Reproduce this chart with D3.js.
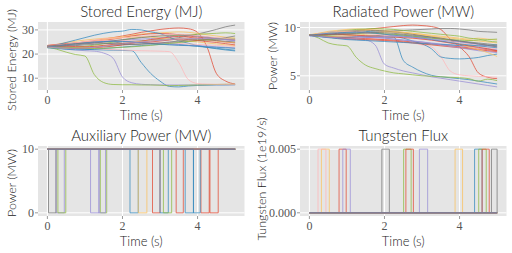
<!DOCTYPE html>
<html>
<head>
<meta charset="utf-8">
<script src="https://cdn.jsdelivr.net/npm/d3@7"></script>
<style>
  body { margin: 0; background: #fff; }
  text { fill: #222; }
</style>
</head>
<body>
<svg id="chart" width="512" height="253"></svg>
<script>
// time grid of the sampled signals (s)
var times = [0, 0.25, 0.5, 0.75, 1, 1.25, 1.5, 1.75, 2, 2.25, 2.5, 2.75, 3, 3.25, 3.5, 3.75, 4, 4.25, 4.5, 4.75, 5];
var colorCycle = ["#E24A33", "#348ABD", "#988ED5", "#777777", "#FBC15E", "#8EBA42", "#FFB5B8"];

// stored energy (MJ), one row per shot
var storedEnergy = [
  [23.5,23.8,24.2,24.5,25.0,25.6,26.2,26.8,27.5,28.2,29.0,29.6,30.2,30.6,30.8,30.5,29.0,23.0,12.0,8.8,7.6],
  [23.0,22.8,22.5,22.3,22.0,21.8,21.7,21.6,21.5,21.4,16.5,12.0,8.8,6.6,6.4,6.8,7.0,7.1,7.2,7.2,7.3],
  [23.2,22.6,22.0,21.7,21.4,21.2,20.4,18.3,10.5,8.1,7.5,7.3,7.2,7.2,7.2,7.2,7.2,7.3,7.3,7.3,7.3],
  [22.8,23.0,23.3,23.5,23.8,24.0,24.3,24.6,25.0,25.3,25.5,25.8,26.0,26.3,26.8,27.5,28.3,29.2,30.2,31.3,32.0],
  [23.4,24.0,24.8,25.3,25.8,26.2,26.5,26.8,27.2,27.8,28.3,28.6,28.8,29.0,29.2,29.0,28.6,28.0,27.5,27.0,26.6],
  [23.0,22.0,20.8,19.8,19.2,11.5,8.2,7.4,7.3,7.3,7.2,7.2,7.1,6.9,7.0,7.1,7.2,7.3,7.4,7.5,7.5],
  [23.3,23.0,22.8,22.6,22.4,22.2,22.0,21.8,21.7,21.5,21.4,21.3,21.2,21.0,16.5,9.5,7.8,7.6,7.5,7.5,7.5],
  [23.6,24.0,24.3,24.6,25.0,25.3,25.7,26.2,26.8,27.5,28.0,28.4,28.5,28.4,28.0,27.5,27.0,26.6,26.3,26.0,25.8],
  [23.1,23.8,24.8,25.8,26.8,27.8,28.6,29.2,29.5,30.2,30.0,29.2,28.5,27.0,25.5,24.5,23.5,22.8,22.2,21.7,21.3],
  [22.9,23.2,23.6,24.0,24.5,24.8,25.0,25.3,25.8,26.0,26.2,26.4,26.8,27.2,27.6,27.8,27.5,27.0,26.5,26.0,25.5],
  [23.2,23.0,22.9,22.8,22.8,23.0,23.3,23.5,23.8,24.0,24.2,24.4,24.6,24.8,25.0,25.2,25.5,25.8,26.2,26.8,27.5],
  [23.0,23.4,23.8,24.2,24.8,25.4,26.0,26.5,26.8,27.0,27.2,27.0,26.6,26.2,25.8,25.4,25.0,24.6,24.2,23.8,23.4],
  [22.7,22.5,22.6,22.8,23.2,23.7,24.3,25.0,25.8,26.5,27.0,27.3,27.5,27.6,27.8,28.0,28.2,28.4,28.6,28.8,28.5],
  [23.5,23.8,24.1,24.5,25.0,25.4,25.6,25.7,25.6,25.4,25.2,25.0,24.8,24.6,24.4,24.2,24.0,23.8,23.6,23.4,23.2],
  [23.0,22.8,22.5,22.3,22.4,22.6,22.9,23.3,23.8,24.5,25.3,26.0,26.5,27.0,27.3,27.0,26.5,26.0,25.5,25.0,24.6],
  [22.6,22.3,22.0,21.8,21.8,22.0,22.3,22.6,22.9,23.2,23.5,23.8,24.0,24.2,24.0,23.6,23.2,22.8,22.4,22.0,21.6],
  [23.4,23.6,23.8,24.2,24.6,25.0,25.2,25.4,25.3,25.0,24.8,24.5,24.3,24.0,23.8,23.6,23.5,23.3,23.0,22.8,22.5],
  [23.0,23.3,23.5,23.8,24.2,24.6,25.0,25.5,26.0,26.4,26.8,27.2,27.6,27.8,28.0,27.8,27.4,27.0,26.6,26.3,26.0],
  [22.8,22.6,22.5,22.6,22.8,23.0,23.4,23.8,24.3,24.8,25.2,25.5,25.8,26.0,26.2,26.4,26.2,25.8,25.4,25.0,24.8],
  [23.3,23.0,22.8,22.6,22.4,22.3,22.4,22.6,22.8,23.0,23.3,23.6,24.0,24.4,24.8,25.2,25.6,26.0,26.2,26.4,26.5],
  [23.1,23.5,24.0,24.6,25.2,25.8,26.3,26.6,26.8,27.0,27.3,27.6,27.8,28.0,28.2,28.0,27.6,27.2,26.8,26.5,26.2],
  [23.2,23.4,23.3,23.1,23.0,23.2,23.6,24.0,24.4,24.6,24.8,25.0,25.4,25.8,26.2,26.0,25.6,25.2,24.8,24.3,23.8],
  [22.9,23.3,23.8,24.3,24.7,25.0,25.2,25.3,25.2,25.0,24.7,24.4,24.1,23.8,23.6,23.5,23.3,23.0,22.8,22.6,22.4],
  [23.0,22.7,22.5,22.4,22.5,22.8,23.2,23.7,24.2,24.6,25.0,25.4,25.7,26.0,26.2,26.4,26.5,26.5,26.3,26.0,25.6],
  [23.3,23.6,24.0,24.3,24.5,24.6,24.5,24.3,24.1,24.0,24.1,24.3,24.6,25.0,25.4,25.8,26.0,25.9,25.6,25.3,25.0]
];

// radiated power (MW), same shots
var radiatedPower = [
  [9.2,9.3,9.4,9.5,9.6,9.7,9.8,9.9,10.0,10.1,10.2,10.25,10.2,10.1,9.8,8.8,8.0,7.0,5.3,4.85,4.7],
  [9.2,9.1,9.0,9.0,9.0,9.0,9.0,9.0,9.0,9.0,6.6,5.9,5.4,5.05,4.9,4.8,4.7,4.6,4.45,4.3,4.15],
  [9.2,9.1,9.0,8.9,8.8,8.75,8.7,8.2,6.2,5.8,5.5,5.3,5.1,4.9,4.75,4.6,4.45,4.3,4.15,4.0,3.85],
  [9.2,9.25,9.3,9.35,9.4,9.45,9.5,9.55,9.6,9.65,9.7,9.75,9.8,9.85,9.9,9.9,9.85,9.75,9.6,9.55,9.5],
  [9.2,9.4,9.6,9.7,9.8,9.85,9.8,9.7,9.6,9.5,9.4,9.3,9.2,9.1,9.0,8.9,8.8,8.7,8.6,8.5,8.4],
  [9.25,8.9,8.4,8.2,8.1,6.9,6.1,5.75,5.5,5.3,5.2,5.1,5.0,4.95,4.9,4.85,4.8,4.7,4.45,4.65,4.5],
  [9.2,9.3,9.3,9.2,9.1,9.0,8.9,8.8,8.7,8.6,8.5,8.4,8.2,8.0,7.0,5.5,5.1,5.0,4.95,4.9,4.85],
  [9.2,9.2,9.1,9.0,8.95,8.9,8.85,8.8,8.75,8.7,8.6,8.5,8.4,8.3,8.2,8.1,8.0,7.9,7.8,7.7,7.6],
  [9.2,9.35,9.5,9.6,9.65,9.7,9.6,9.5,9.3,9.1,8.9,8.6,8.3,7.8,6.95,6.8,6.75,6.8,6.9,7.1,7.25],
  [9.15,9.2,9.3,9.35,9.3,9.2,9.1,9.0,8.9,8.8,8.7,8.6,8.5,8.4,8.3,8.2,8.1,8.0,7.9,7.8,7.7],
  [9.2,9.1,9.05,9.0,9.0,9.05,9.1,9.15,9.2,9.25,9.2,9.1,9.0,8.9,8.8,8.7,8.6,8.5,8.4,8.3,8.2],
  [9.25,9.4,9.5,9.55,9.6,9.65,9.7,9.75,9.7,9.6,9.5,9.4,9.3,9.2,9.1,9.0,8.9,8.8,8.9,8.8,8.7],
  [9.2,9.3,9.45,9.6,9.7,9.8,9.85,9.9,9.85,9.8,9.7,9.6,9.5,9.4,9.3,9.2,9.1,8.9,8.8,8.6,8.5],
  [9.2,9.35,9.5,9.6,9.65,9.6,9.5,9.4,9.3,9.2,9.1,9.0,8.85,8.7,8.55,8.4,8.2,8.0,7.8,7.6,7.4],
  [9.2,9.1,9.0,8.9,8.85,8.8,8.75,8.7,8.65,8.6,8.5,8.4,8.3,8.2,8.1,8.0,7.9,7.8,7.7,7.6,7.5],
  [9.15,9.05,8.95,8.85,8.75,8.7,8.65,8.6,8.55,8.5,8.45,8.4,8.35,8.3,8.25,8.2,8.15,8.1,8.1,8.15,8.2],
  [9.2,9.3,9.35,9.3,9.2,9.1,9.0,8.95,8.9,8.8,8.7,8.6,8.5,8.35,8.2,8.05,7.9,7.75,7.6,7.5,7.4],
  [9.2,9.25,9.3,9.4,9.5,9.6,9.65,9.7,9.65,9.55,9.45,9.3,9.15,9.0,8.85,8.7,8.55,8.4,8.3,8.2,8.1],
  [9.2,9.15,9.1,9.1,9.15,9.2,9.3,9.4,9.5,9.55,9.5,9.4,9.3,9.1,8.9,8.6,8.3,8.0,7.7,7.4,7.0],
  [9.25,9.2,9.2,9.25,9.3,9.35,9.4,9.4,9.35,9.3,9.2,9.1,9.0,8.9,8.8,8.75,8.7,8.65,8.7,8.75,8.8],
  [9.2,9.3,9.4,9.5,9.55,9.5,9.4,9.3,9.2,9.1,9.0,8.9,8.8,8.7,8.6,8.5,8.4,8.3,8.1,7.9,7.8],
  [9.2,9.25,9.3,9.3,9.25,9.2,9.15,9.1,9.05,9.0,8.95,8.9,8.8,8.7,8.55,8.4,8.25,8.1,7.95,7.8,7.6],
  [9.2,9.3,9.4,9.45,9.5,9.5,9.45,9.4,9.3,9.2,9.1,9.0,8.9,8.75,8.6,8.45,8.3,8.2,8.1,8.0,7.9],
  [9.15,9.1,9.0,8.95,8.9,8.9,8.95,9.0,9.05,9.1,9.05,9.0,8.9,8.8,8.7,8.6,8.5,8.4,8.25,8.1,8.0],
  [9.2,9.2,9.25,9.3,9.35,9.4,9.45,9.5,9.45,9.4,9.3,9.2,9.1,9.0,8.9,8.75,8.6,8.45,8.3,8.15,8.0]
];

// auxiliary power switched off (10 -> 0 MW) during these windows
var auxShot  = [3, 2, 5, 9, 16, 12, 1, 4, 0, 8, 19, 7, 15, 22, 14, 21];
var auxStart = [0.03, 0.23, 0.28, 1.15, 1.37, 1.41, 2.20, 2.42, 2.80, 3.00, 3.09, 3.43, 3.67, 3.89, 4.09, 4.33];
var auxEnd   = [0.23, 0.45, 0.49, 1.38, 1.55, 1.58, 2.42, 2.65, 3.00, 3.22, 3.31, 3.62, 3.89, 4.07, 4.31, 4.55];
var auxOn = 10, auxOff = 0;

// tungsten flux pulses (0 -> 0.005 1e19/s)
var fluxShot  = [6, 4, 0, 2, 3, 5, 7, 9, 11, 8, 12, 14, 10];
var fluxStart = [0.23, 0.32, 0.79, 0.89, 1.93, 2.51, 2.57, 2.93, 3.88, 4.40, 4.51, 4.60, 4.85];
var fluxEnd   = [0.44, 0.53, 0.98, 1.09, 2.13, 2.71, 2.77, 3.15, 4.08, 4.60, 4.71, 4.79, 5.00];
var fluxBase = 0, fluxPulse = 0.005;

var xTicks = [0, 2, 4];
var tStart = 0, tEnd = 5;

function stepSeries(shotIdx, shots, starts, ends, base, level) {
  var ev = [];
  for (var k = 0; k < shots.length; k++) {
    if (shots[k] === shotIdx) ev.push([starts[k], ends[k]]);
  }
  ev.sort(function (a, b) { return a[0] - b[0]; });
  var pts = [[tStart, base]];
  ev.forEach(function (e) {
    pts.push([e[0], base], [e[0], level], [e[1], level], [e[1], base]);
  });
  pts.push([tEnd, base]);
  return pts;
}

function sampled(rows) {
  return rows.map(function (r) {
    return r.map(function (v, i) { return [times[i], v]; });
  });
}

var nShots = storedEnergy.length;
var auxLines = [], fluxLines = [];
for (var s = 0; s < nShots; s++) {
  auxLines.push(stepSeries(s, auxShot, auxStart, auxEnd, auxOn, auxOff));
  fluxLines.push(stepSeries(s, fluxShot, fluxStart, fluxEnd, fluxBase, fluxPulse));
}

function padded(lines) {
  var ext = d3.extent(d3.merge(lines), function (p) { return p[1]; });
  var pad = (ext[1] - ext[0]) * 0.05;
  return [ext[0] - pad, ext[1] + pad];
}

var panels = [
  { left: 38, right: 244.5, top: 22, bottom: 90, title: "Stored Energy (MJ)", ylabel: "Stored Energy (MJ)",
    lines: sampled(storedEnergy), yTicks: [10, 20, 30], fmt: d3.format("d"), smooth: true, ylx: 12, yly: 60 },
  { left: 300, right: 506.5, top: 22, bottom: 90, title: "Radiated Power (MW)", ylabel: "Power (MW)",
    lines: sampled(radiatedPower), yTicks: [5, 10], fmt: d3.format("d"), smooth: true, ylx: 273, yly: 56 },
  { left: 38, right: 244.5, top: 146, bottom: 216, title: "Auxiliary Power (MW)", ylabel: "Power (MW)",
    lines: auxLines, yTicks: [0, 10], fmt: d3.format("d"), smooth: false, ylx: 12, yly: 183 },
  { left: 300, right: 506.5, top: 146, bottom: 216, title: "Tungsten Flux", ylabel: "Tungsten Flux (1e19/s)",
    lines: fluxLines, yTicks: [0, 0.005], fmt: d3.format(".3f"), smooth: false, ylx: 262, yly: 179 }
];

var svg = d3.select("#chart");
var sansFont = "Lato, 'Open Sans', sans-serif";
var serifFont = "'Liberation Serif', 'DejaVu Serif', serif";

panels.forEach(function (p) {
  var x = d3.scaleLinear().domain([tStart - 0.25, tEnd + 0.25]).range([p.left, p.right]);
  var y = d3.scaleLinear().domain(padded(p.lines)).range([p.bottom, p.top]);
  var g = svg.append("g");

  g.append("rect")
    .attr("x", p.left).attr("y", p.top)
    .attr("width", p.right - p.left).attr("height", p.bottom - p.top)
    .attr("fill", "#E5E5E5");

  // grid
  g.selectAll("line.gx").data(xTicks).join("line")
    .attr("x1", function (d) { return x(d); }).attr("x2", function (d) { return x(d); })
    .attr("y1", p.top).attr("y2", p.bottom)
    .attr("stroke", "#fff").attr("stroke-width", 1);
  g.selectAll("line.gy").data(p.yTicks).join("line")
    .attr("y1", function (d) { return y(d); }).attr("y2", function (d) { return y(d); })
    .attr("x1", p.left).attr("x2", p.right)
    .attr("stroke", "#fff").attr("stroke-width", 1);

  var line = d3.line()
    .x(function (d) { return x(d[0]); })
    .y(function (d) { return y(d[1]); })
    .curve(p.smooth ? d3.curveMonotoneX : d3.curveLinear);

  g.selectAll("path.series").data(p.lines).join("path")
    .attr("class", "series")
    .attr("fill", "none")
    .attr("stroke", function (d, i) { return colorCycle[i % colorCycle.length]; })
    .attr("stroke-opacity", 0.75)
    .attr("stroke-width", 1)
    .attr("d", line);

  // ticks
  var tickCol = "#9a9a9a";
  g.selectAll("line.tx").data(xTicks).join("line")
    .attr("x1", function (d) { return x(d); }).attr("x2", function (d) { return x(d); })
    .attr("y1", p.bottom).attr("y2", p.bottom + 3)
    .attr("stroke", tickCol);
  g.selectAll("line.ty").data(p.yTicks).join("line")
    .attr("y1", function (d) { return y(d); }).attr("y2", function (d) { return y(d); })
    .attr("x1", p.left - 3).attr("x2", p.left)
    .attr("stroke", tickCol);

  g.selectAll("text.tx").data(xTicks).join("text")
    .attr("x", function (d) { return x(d); }).attr("y", p.bottom + 14)
    .attr("text-anchor", "middle")
    .style("font", "12px " + serifFont).style("fill", "#555")
    .text(function (d) { return d; });
  g.selectAll("text.ty").data(p.yTicks).join("text")
    .attr("x", p.left - 4).attr("y", function (d) { return y(d); })
    .attr("dy", "0.35em")
    .attr("text-anchor", "end")
    .style("font", "12px " + serifFont).style("fill", "#555")
    .text(p.fmt);

  g.append("text")
    .attr("x", (p.left + p.right) / 2).attr("y", p.top - 5)
    .attr("text-anchor", "middle")
    .style("font", "300 15px " + sansFont)
    .text(p.title);

  g.append("text")
    .attr("x", (p.left + p.right) / 2).attr("y", p.bottom + 30)
    .attr("text-anchor", "middle")
    .style("font", "300 13px " + sansFont)
    .text("Time (s)");

  g.append("text")
    .attr("transform", "translate(" + p.ylx + "," + p.yly + ") rotate(-90)")
    .attr("dy", "0.35em")
    .attr("text-anchor", "middle")
    .style("font", "300 12.5px " + sansFont)
    .text(p.ylabel);
});
</script>
</body>
</html>
